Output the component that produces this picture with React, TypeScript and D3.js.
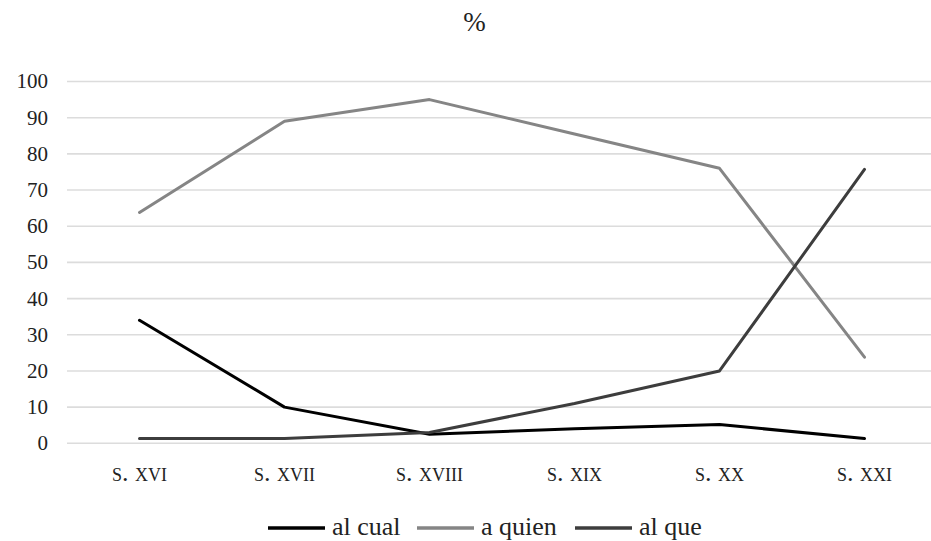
import React from "react";
import * as d3 from "d3";

const categories = ["s. xvi", "s. xvii", "s. xviii", "s. xix", "s. xx", "s. xxi"];
const seriesNames = ["al cual", "a quien", "al que"];
const alCual = [34, 10, 2.5, 4, 5.2, 1.3];
const aQuien = [63.8, 89, 95, 85.5, 76, 23.8];
const alQue = [1.3, 1.3, 3, 11, 20, 75.7];
const yTicks = [0, 10, 20, 30, 40, 50, 60, 70, 80, 90, 100];
const colors = ["#000000", "#858585", "#3d3d3d"];

const W = 931;
const H = 541;
const FONT = "'Liberation Serif', 'Times New Roman', serif";

export default function App() {
  const x = d3.scalePoint<string>().domain(categories).range([67, 937]).padding(0.5);
  const y = d3.scaleLinear().domain([0, 100]).range([443.3, 81.5]);
  const line = d3
    .line<number>()
    .x((_, i) => x(categories[i]) as number)
    .y((d) => y(d));
  const series = [alCual, aQuien, alQue];
  const legendX = [268, 417, 575];
  const ts = { fontFamily: FONT };

  return (
    <svg
      width={W}
      height={H}
      style={{ position: "absolute", left: 0, top: 0, background: "#fff" }}
    >
      <text x={474.5} y={31} textAnchor="middle" fontSize={27} fill="#222" style={ts}>
        %
      </text>
      {yTicks.map((t) => (
        <g key={t}>
          <line x1={67} x2={W} y1={y(t)} y2={y(t)} stroke="#dcdcdc" strokeWidth={1.6} />
          <text x={48} y={y(t)} dy="0.33em" textAnchor="end" fontSize={21} fill="#222" style={ts}>
            {t}
          </text>
        </g>
      ))}
      {categories.map((c) => (
        <text
          key={c}
          x={x(c)}
          y={481}
          textAnchor="middle"
          fontSize={26}
          fill="#222"
          style={{ fontFamily: FONT, fontVariant: "small-caps" }}
        >
          {c}
        </text>
      ))}
      {series.map((s, i) => (
        <path
          key={seriesNames[i]}
          d={line(s) || ""}
          fill="none"
          stroke={colors[i]}
          strokeWidth={3}
          strokeLinejoin="round"
          strokeLinecap="round"
        />
      ))}
      {seriesNames.map((n, i) => (
        <g key={n}>
          <line
            x1={legendX[i]}
            x2={legendX[i] + 57}
            y1={528}
            y2={528}
            stroke={colors[i]}
            strokeWidth={3.5}
          />
          <text x={legendX[i] + 64} y={535} fontSize={26} fill="#222" style={ts}>
            {n}
          </text>
        </g>
      ))}
    </svg>
  );
}
